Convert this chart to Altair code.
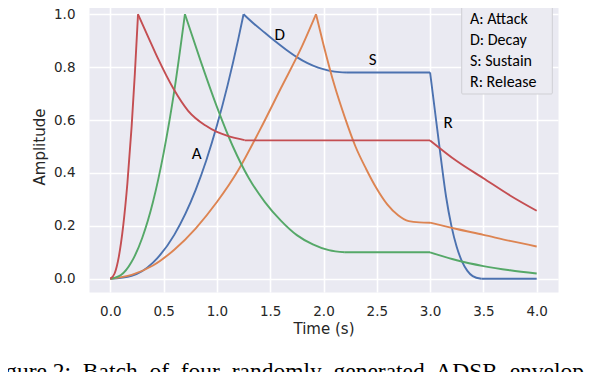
import altair as alt
import pandas as pd

# ---------------- data ----------------
x_ticks = [0.0, 0.5, 1.0, 1.5, 2.0, 2.5, 3.0, 3.5, 4.0]
y_ticks = [0.0, 0.2, 0.4, 0.6, 0.8, 1.0]

env_names = ["blue", "orange", "green", "red"]
env_colors = ["#4C72B0", "#DD8452", "#55A868", "#C44E52"]

# blue envelope
blue_t = [0.0, 0.2, 0.4, 0.6, 0.8, 0.9, 1.0, 1.1, 1.2, 1.25,
          1.25, 1.35, 1.45, 1.55, 1.65, 1.75, 1.85, 1.95, 2.05, 2.15, 2.22,
          2.22, 3.0,
          3.0, 3.05, 3.1, 3.15, 3.2, 3.25, 3.3, 3.35, 3.4, 3.48,
          3.48, 4.0]
blue_v = [0.0, 0.011, 0.061, 0.166, 0.335, 0.447, 0.579, 0.731, 0.905, 1.0,
          1.0, 0.963, 0.93, 0.897, 0.866, 0.838, 0.815, 0.798, 0.787, 0.781, 0.78,
          0.78, 0.78,
          0.78, 0.62, 0.46, 0.31, 0.2, 0.12, 0.065, 0.03, 0.01, 0.0,
          0.0, 0.0]
blue_seg = ["A"] * 10 + ["D"] * 11 + ["S"] * 2 + ["R"] * 10 + ["E"] * 2

# orange envelope
orange_t = [0.0, 0.2, 0.4, 0.6, 0.8, 1.0, 1.2, 1.4, 1.6, 1.8, 1.93,
            1.93, 2.0, 2.1, 2.2, 2.3, 2.4, 2.5, 2.6, 2.7, 2.8, 2.9, 3.0,
            3.0, 3.25, 3.5, 3.75, 4.0]
orange_v = [0.0, 0.015, 0.05, 0.11, 0.19, 0.29, 0.41, 0.56, 0.72, 0.88, 1.0,
            1.0, 0.885, 0.735, 0.61, 0.5, 0.415, 0.34, 0.28, 0.24, 0.218, 0.213, 0.212,
            0.212, 0.188, 0.166, 0.143, 0.122]
orange_seg = ["A"] * 11 + ["D"] * 12 + ["R"] * 5

# green envelope
green_t = [0.0, 0.1, 0.2, 0.3, 0.4, 0.5, 0.6, 0.7,
           0.7, 0.85, 1.0, 1.15, 1.3, 1.45, 1.6, 1.75, 1.9, 2.05, 2.2,
           2.2, 3.0,
           3.0, 3.25, 3.5, 3.75, 4.0]
green_v = [0.0, 0.014, 0.064, 0.155, 0.29, 0.475, 0.71, 1.0,
           1.0, 0.82, 0.65, 0.5, 0.38, 0.29, 0.22, 0.165, 0.13, 0.108, 0.1,
           0.1, 0.1,
           0.1, 0.07, 0.048, 0.032, 0.02]
green_seg = ["A"] * 8 + ["D"] * 11 + ["S"] * 2 + ["R"] * 5

# red envelope
red_t = [0.0, 0.04, 0.08, 0.12, 0.16, 0.2, 0.23, 0.26,
         0.26, 0.36, 0.45, 0.59, 0.73, 0.89, 1.0, 1.1, 1.26,
         1.26, 3.0,
         3.0, 3.25, 3.5, 3.75, 4.0]
red_v = [0.0, 0.02, 0.084, 0.197, 0.36, 0.576, 0.774, 1.0,
         1.0, 0.91, 0.83, 0.72, 0.635, 0.58, 0.555, 0.54, 0.524,
         0.523, 0.523,
         0.523, 0.445, 0.38, 0.315, 0.257]
red_seg = ["A"] * 8 + ["D"] * 9 + ["S"] * 2 + ["R"] * 5

# annotation letters placed at data coordinates
ann_text = ["A", "D", "S", "R"]
ann_t = [0.81, 1.59, 2.46, 3.17]
ann_v = [0.473, 0.923, 0.826, 0.588]

legend_lines = ["A: Attack", "D: Decay", "S: Sustain", "R: Release"]
caption = "Figure 2:\u00a0 Batch\u00a0 of\u00a0 four\u00a0 randomly\u00a0 generated\u00a0 ADSR\u00a0 envelopes"

# ---------------- build tables ----------------
series = {
    "blue": (blue_t, blue_v, blue_seg),
    "orange": (orange_t, orange_v, orange_seg),
    "green": (green_t, green_v, green_seg),
    "red": (red_t, red_v, red_seg),
}
rows = []
for name, (ts, vs, ss) in series.items():
    for t, v, s in zip(ts, vs, ss):
        rows.append({"env": name, "seg": s, "t": t, "v": v})
df = pd.DataFrame(rows)
ann_df = pd.DataFrame({"label": ann_text, "t": ann_t, "v": ann_v})
one = pd.DataFrame({"k": [0]})

FONT_AX = "DejaVu Sans"
FONT_TXT = "Carlito, Lato, sans-serif"
INK = "#262626"

x_scale = alt.Scale(domain=[-0.2, 4.2], nice=False, zero=False)
y_scale = alt.Scale(domain=[-0.05, 1.05], nice=False, zero=False)

x_axis = alt.Axis(values=x_ticks, format=".1f", domain=False, ticks=False, tickSize=0,
                  labelPadding=12, labelFont=FONT_AX, labelFontSize=13.5, labelColor=INK,
                  gridColor="white", gridWidth=1.6, gridOpacity=1,
                  title="Time (s)", titleFont=FONT_AX, titleFontSize=15,
                  titleFontWeight="normal", titleColor=INK, titlePadding=4)
y_axis = alt.Axis(values=y_ticks, format=".1f", domain=False, ticks=False, tickSize=0,
                  labelPadding=14, labelFont=FONT_AX, labelFontSize=13.5, labelColor=INK,
                  gridColor="white", gridWidth=1.6, gridOpacity=1,
                  title="Amplitude", titleFont=FONT_AX, titleFontSize=15,
                  titleFontWeight="normal", titleColor=INK, titlePadding=6)

color_scale = alt.Scale(domain=env_names, range=env_colors)

layers = []
for name in env_names:
    layers.append(
        alt.Chart(df)
        .transform_filter(alt.datum.env == name)
        .mark_line(strokeWidth=1.9, interpolate="monotone")
        .encode(
            x=alt.X("t:Q", scale=x_scale, axis=x_axis),
            y=alt.Y("v:Q", scale=y_scale, axis=y_axis),
            color=alt.Color("env:N", scale=color_scale, legend=None),
            detail="seg:N",
        )
    )

ann = alt.Chart(ann_df).mark_text(font=FONT_TXT, fontSize=17, color="black",
                                  align="center", baseline="middle").encode(
    x=alt.X("t:Q", scale=x_scale, axis=x_axis),
    y=alt.Y("v:Q", scale=y_scale, axis=y_axis),
    text="label:N")

legend_box = alt.Chart(one).mark_rect(fill="#EBEBF2", stroke="#CFCFD4", strokeWidth=1,
                                      cornerRadius=1).encode(
    x=alt.value(372.7), x2=alt.value(463.3), y=alt.value(4), y2=alt.value(93))

legend_text = alt.Chart(one).mark_text(font=FONT_TXT, fontSize=16, color="black",
                                       align="left", baseline="alphabetic",
                                       lineHeight=21).encode(
    x=alt.value(381), y=alt.value(23.3), text=alt.value(legend_lines))

cap = alt.Chart(one).mark_text(font="Liberation Serif, Times New Roman, serif", fontSize=23.5,
                               color="black", align="left", baseline="alphabetic").encode(
    x=alt.value(-103.4), y=alt.value(377.8), text=alt.value(caption))

chart = alt.layer(*layers, ann, legend_box, legend_text, cap).properties(
    width=469, height=291,
    autosize=alt.AutoSizeParams(type="none"),
    padding={"left": 81, "top": -7, "right": 26, "bottom": 80},
    background="white",
).configure_view(fill="#EAEAF2", stroke="transparent")

chart.save("out.html", embed_options={"renderer": "svg", "actions": False})
